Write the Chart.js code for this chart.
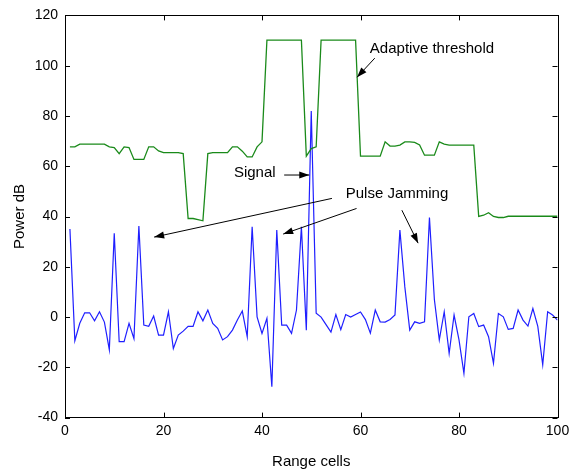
<!DOCTYPE html>
<html>
<head>
<meta charset="utf-8">
<script src="https://cdn.jsdelivr.net/npm/chart.js@4.4.1/dist/chart.umd.min.js"></script>
<style>
  html, body { margin: 0; padding: 0; background: #fff; }
  #wrap { width: 569px; height: 473px; }
</style>
</head>
<body>
<div id="wrap"><canvas id="c"></canvas></div>
<script>
/* Pulse jamming vs adaptive threshold — power (dB) over range cells. */
const cells = [1,2,3,4,5,6,7,8,9,10,11,12,13,14,15,16,17,18,19,20,
  21,22,23,24,25,26,27,28,29,30,31,32,33,34,35,36,37,38,39,40,
  41,42,43,44,45,46,47,48,49,50,51,52,53,54,55,56,57,58,59,60,
  61,62,63,64,65,66,67,68,69,70,71,72,73,74,75,76,77,78,79,80,
  81,82,83,84,85,86,87,88,89,90,91,92,93,94,95,96,97,98,99,100];

const powerDb = [35,-9.4,-2.5,1.7,1.7,-1.5,2.1,-2,-13,33.3,
  -9.8,-9.8,-2.5,-8.6,36.2,-3.2,-3.7,0.4,-7.2,-7.2,
  2.1,-12.5,-7.2,-5.6,-3.7,-3.7,2.1,-1.5,2.8,-2.5,
  -4.5,-9.1,-7.8,-5.2,-1.2,2.4,-7.8,35.9,0.1,-6.5,
  -0.5,-27.7,34.6,-3.2,-3.2,-6.5,2.8,35.9,-5.2,82,
  1.5,0,-3,-6,1,-5,1,0,1,2,
  -1,-6.4,2.8,-1.9,-2,-1,0.8,34.6,12,-5.2,
  -1.9,-2.5,-1.9,39.6,7,-9.1,2.1,-14.4,0.8,-9.1,
  -22.4,0.1,1.4,-3.8,-3.2,-7.8,-18.4,1.4,0.1,-4.9,
  -4.5,2.8,-1.2,-3.6,3.4,-3.7,-19,2.1,0.8,-1.2];

const thresholdDb = [67.7,67.7,68.8,68.8,68.8,68.8,68.8,68.8,67.7,67.4,
  65,67.7,67.4,62.7,62.7,62.7,67.7,67.7,66.1,65.4,
  65.4,65.4,65.4,65,39.2,39.2,38.8,38.3,65,65.4,
  65.4,65.4,65.4,67.7,67.7,66,63.7,63.7,67.7,69.7,
  110.2,110.2,110.2,110.2,110.2,110.2,110.2,110.2,64,67,
  67.7,110.2,110.2,110.2,110.2,110.2,110.2,110.2,110.2,64,
  64,64,64,64,69.7,68,68,68.4,69.7,69.7,
  69.5,68.5,64.4,64.4,64.4,69.7,68.8,68.4,68.4,68.4,
  68.4,68.4,68.4,40,40.5,41.5,40,39.6,39.6,40.1,
  40.1,40.1,40.1,40.1,40.1,40.1,40.1,40.1,40.1,40.1];

const xTicks = [0, 20, 40, 60, 80, 100];
const yTicks = [-40, -20, 0, 20, 40, 60, 80, 100, 120];

// annotation texts (data coords: left x, middle y)
const noteTexts = [
  { text: "Adaptive threshold", x: 61.9, y: 106.6 },
  { text: "Signal", x: 34.3, y: 57.3 },
  { text: "Pulse Jamming", x: 57.0, y: 48.9 },
];
// arrows: [fromX, fromY, toX, toY] in data coords, head at "to"
const arrows = [
  [62.9, 103.0, 59.3, 95.4],
  [44.5, 56.5, 49.6, 56.5],
  [54.2, 47.2, 18.1, 31.8],
  [59.2, 43.2, 44.3, 33.0],
  [68.4, 42.5, 71.7, 29.4],
];

const FONT = "'Liberation Sans', Arial, sans-serif";

// box + inward ticks on all four sides, MATLAB style
const boxPlugin = {
  id: "box",
  afterDatasetsDraw(chart) {
    const { ctx, chartArea: a, scales: { x, y } } = chart;
    const tl = 5;
    ctx.save();
    ctx.strokeStyle = "#000";
    ctx.lineWidth = 1;
    ctx.beginPath();
    xTicks.forEach(v => {
      const px = Math.round(x.getPixelForValue(v)) + 0.5;
      ctx.moveTo(px, a.bottom); ctx.lineTo(px, a.bottom - tl);
      ctx.moveTo(px, a.top); ctx.lineTo(px, a.top + tl);
    });
    yTicks.forEach(v => {
      const py = Math.round(y.getPixelForValue(v)) + 0.5;
      ctx.moveTo(a.left, py); ctx.lineTo(a.left + tl, py);
      ctx.moveTo(a.right, py); ctx.lineTo(a.right - tl, py);
    });
    ctx.stroke();
    ctx.strokeRect(Math.round(a.left) + 0.5, Math.round(a.top) + 0.5,
      Math.round(a.right - a.left), Math.round(a.bottom - a.top));
    ctx.restore();
  },
};

const notePlugin = {
  id: "notes",
  afterDatasetsDraw(chart) {
    const { ctx, scales: { x, y } } = chart;
    ctx.save();
    ctx.fillStyle = "#000";
    ctx.strokeStyle = "#000";
    ctx.lineWidth = 1;
    ctx.font = "15px " + FONT;
    ctx.textBaseline = "middle";
    noteTexts.forEach(n => ctx.fillText(n.text, x.getPixelForValue(n.x), y.getPixelForValue(n.y)));
    arrows.forEach(([x0, y0, x1, y1]) => {
      const ax = x.getPixelForValue(x0), ay = y.getPixelForValue(y0);
      const bx = x.getPixelForValue(x1), by = y.getPixelForValue(y1);
      const ang = Math.atan2(by - ay, bx - ax), hl = 10, hw = 3.5;
      ctx.beginPath(); ctx.moveTo(ax, ay); ctx.lineTo(bx, by); ctx.stroke();
      ctx.beginPath();
      ctx.moveTo(bx, by);
      ctx.lineTo(bx - hl * Math.cos(ang) + hw * Math.sin(ang), by - hl * Math.sin(ang) - hw * Math.cos(ang));
      ctx.lineTo(bx - hl * Math.cos(ang) - hw * Math.sin(ang), by - hl * Math.sin(ang) + hw * Math.cos(ang));
      ctx.closePath(); ctx.fill();
    });
    ctx.restore();
  },
};

const pts = vals => cells.map((c, i) => ({ x: c, y: vals[i] }));

new Chart(document.getElementById("c"), {
  type: "line",
  data: {
    datasets: [
      { label: "Adaptive threshold", data: pts(thresholdDb), borderColor: "#1a8a1a",
        borderWidth: 1.3, pointRadius: 0, tension: 0 },
      { label: "Power", data: pts(powerDb), borderColor: "#1f1fff",
        borderWidth: 1.2, pointRadius: 0, tension: 0 },
    ],
  },
  options: {
    responsive: true, maintainAspectRatio: false, animation: false,
    layout: { padding: { top: 15, right: 11.5, left: 0, bottom: 0 } },
    plugins: { legend: { display: false }, tooltip: { enabled: false } },
    scales: {
      x: {
        type: "linear", min: 0, max: 100,
        afterBuildTicks: s => { s.ticks = xTicks.map(v => ({ value: v })); },
        // keep "100" from pushing the plot edge in; the reference lets it run to the border
        afterFit: s => { s.height = 55.4; s.paddingLeft = 0; s.paddingRight = 0; },
        grid: { display: false, drawTicks: false },
        border: { display: false },
        ticks: { color: "#000", padding: 5, font: { family: FONT, size: 14 } },
        title: { display: true, text: "Range cells", color: "#000",
                 padding: { top: 0, bottom: 2 }, font: { family: FONT, size: 15 } },
      },
      y: {
        type: "linear", min: -40, max: 120,
        afterBuildTicks: s => { s.ticks = yTicks.map(v => ({ value: v })); },
        afterFit: s => { s.width = 65; },
        grid: { display: false, drawTicks: false },
        border: { display: false },
        ticks: { color: "#000", padding: 7, font: { family: FONT, size: 14 } },
        title: { display: true, text: "Power dB", color: "#000",
                 padding: { top: 11, bottom: 0 }, font: { family: FONT, size: 15 } },
      },
    },
  },
  plugins: [boxPlugin, notePlugin],
});
</script>
</body>
</html>
